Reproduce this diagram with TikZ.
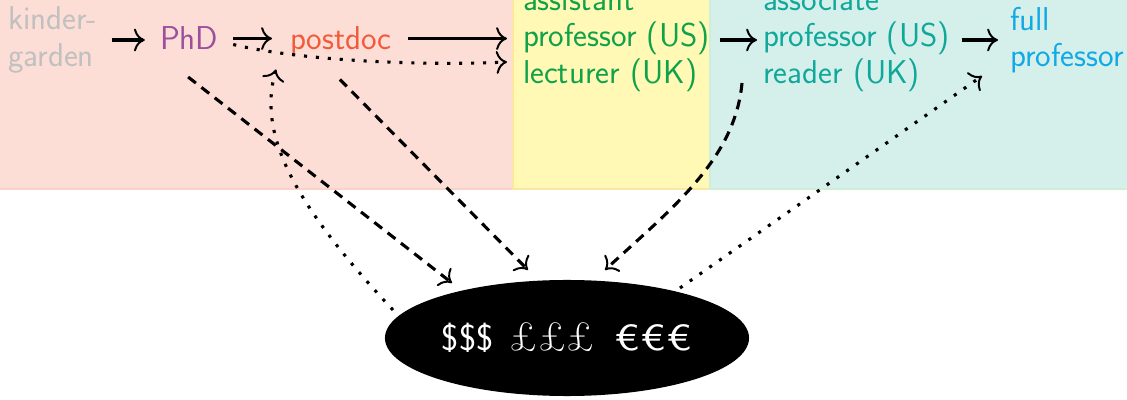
\documentclass[tikz,border=0pt]{standalone}
\usetikzlibrary{calc,shapes.geometric,arrows.meta}
\definecolor{bgpink}{HTML}{FCDED6}
\definecolor{bgpinkline}{HTML}{FAD3C8}
\definecolor{bgyellow}{HTML}{FFF9B5}
\definecolor{bgyellowline}{HTML}{FDE6A2}
\definecolor{bgteal}{HTML}{D5F0EB}
\definecolor{bgtealline}{HTML}{CFEED8}
\definecolor{cgray}{HTML}{C0C0C0}
\definecolor{cphd}{HTML}{9C4F9E}
\definecolor{cpost}{HTML}{F25A3A}
\definecolor{cassist}{HTML}{10A24B}
\definecolor{cassoc}{HTML}{10A89A}
\definecolor{cfull}{HTML}{12A9E6}
\begin{document}
\begin{tikzpicture}[x=0.025cm,y=-0.025cm,
  >={To[scale=1.2,line width=1.4pt]},
  lbl/.style={inner sep=0pt, outer sep=0pt, align=left,
    font=\fontsize{23.5}{26}\selectfont\sffamily},
  bgbox/.style={line width=0.8pt},
  arr/.style={->, line width=2.2pt},
  dsh/.style={->, line width=2.2pt, dash pattern=on 7pt off 5pt},
  dts/.style={->, line width=2.2pt, dash pattern=on 2.2pt off 6.3pt},
]
\useasboundingbox (0,0) rectangle (1127,400);
\clip (0,0) rectangle (1127,400);
% backgrounds
\draw[bgbox, fill=bgpink, draw=bgpinkline] (-10,-60) rectangle (513,189);
\draw[bgbox, fill=bgyellow, draw=bgyellowline] (513,-60) rectangle (710,189);
\draw[bgbox, fill=bgteal, draw=bgtealline] (710,-60) rectangle (1140,189);
% nodes
\node[lbl, text=cgray, anchor=west] (kinder) at (8,40) {kinder-\\garden};
\node[lbl, text=cphd, anchor=base west] (phd) at (160,50) {PhD};
\node[lbl, text=cpost, anchor=base west] (postdoc) at (290,50) {postdoc};
\node[lbl, text=cassist, anchor=west] (assist) at (523,40) {assistant\\professor (US)\\lecturer (UK)};
\node[lbl, text=cassoc, anchor=west] (assoc) at (763,40) {associate\\professor (US)\\reader (UK)};
\node[lbl, text=cfull, anchor=west] (full) at (1010,40) {full\\professor};
\node[ellipse, fill=black, text=white, inner sep=0pt, minimum width=9.1cm, minimum height=2.9cm,
  font=\fontsize{26}{30}\selectfont\sffamily] (money) at (567,338)
  {\$\$\$\hspace{0.45em}{\fontsize{29}{30}\selectfont\rmfamily £££}\hspace{0.55em}\scalebox{1.25}[1]{€}\scalebox{1.25}[1]{€}\scalebox{1.25}[1]{€}};
% solid arrows
\draw[arr, shorten <=0.36cm, shorten >=0.38cm] (kinder.east) -- (kinder.east -| phd.west);
\draw[arr, shorten <=0.38cm, shorten >=0.45cm] (phd.east) -- (phd.east -| postdoc.west);
\draw[arr, shorten <=0.4cm, shorten >=0.4cm] (phd.east -| postdoc.east) -- (phd.east -| assist.west);
\draw[arr, shorten <=0.25cm, shorten >=0.15cm] (assist.east) -- (assoc.west);
\draw[arr, shorten <=0.3cm, shorten >=0.3cm] (assoc.east) -- (assoc.east -| full.west);
% dashed arrows to money
\draw[dsh] ($(phd.south)+(-1,27)$) -- ($(money.center)+(-115,-55)$);
\draw[dsh] ($(postdoc.south)+(-1,23)$) -- ($(money.center)+(-39,-68)$);
\draw[dsh] ($(assoc.west)+(-21,43)$) .. controls +(-7,77) and +(65,-60) .. ($(money.center)+(38,-68)$);
% dotted arrows
\draw[dts] ($(phd.east)+(15,6)$) .. controls +(67,16) and +(-87,4) .. ($(assist.west)+(-16,22)$);
\draw[dts] ($(money.center)+(-174,-28)$) .. controls +(-103,-110) and +(-18,63) .. ($(postdoc.south west)+(-14,13)$);
\draw[dts] ($(money.center)+(113,-50)$) -- ($(full.west)+(-28,36)$);
\end{tikzpicture}
\end{document}
